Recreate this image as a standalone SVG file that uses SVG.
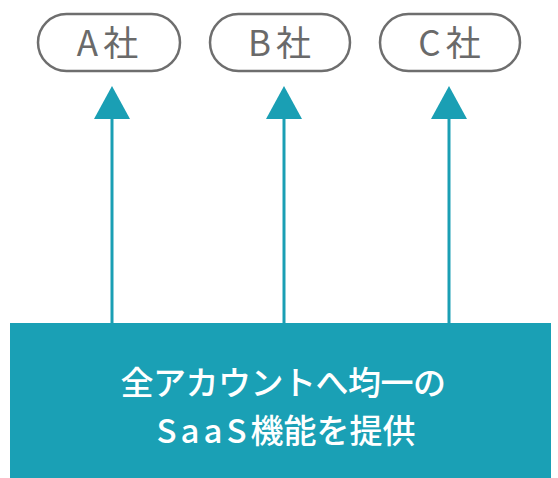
<svg xmlns="http://www.w3.org/2000/svg" width="558" height="478" viewBox="0 0 558 478">
<defs>
<style>
.pill{fill:#fff;stroke:#6e6e6e;stroke-width:2.5}
.pt{font-family:"Noto Sans CJK JP","Noto Sans",sans-serif;font-size:35px;font-weight:400;fill:#6a6a6a;text-anchor:middle;letter-spacing:5px}
.bt{font-family:"Noto Sans CJK JP","Noto Sans",sans-serif;font-size:33px;font-weight:500;fill:#fff;text-anchor:middle}
.ln{stroke:#1a9fb4;stroke-width:3;fill:none}
.hd{fill:#1a9fb4}
</style>
</defs>
<rect width="558" height="478" fill="#fff"/>
<g id="connectors">
<line class="ln" x1="112" y1="114" x2="112" y2="324"/>
<polygon class="hd" points="112,86 94,119 130,119"/>
<line class="ln" x1="284" y1="114" x2="284" y2="324"/>
<polygon class="hd" points="284,86 266,119 302,119"/>
<line class="ln" x1="449" y1="114" x2="449" y2="324"/>
<polygon class="hd" points="449,86 431,119 467,119"/>
</g>
<g id="nodeA">
<rect class="pill" x="38" y="14" width="142" height="57" rx="28.5"/>
<text class="pt" x="110" y="56">A社</text>
</g>
<g id="nodeB">
<rect class="pill" x="210" y="14" width="140" height="57" rx="28.5"/>
<text class="pt" x="282" y="56">B社</text>
</g>
<g id="nodeC">
<rect class="pill" x="380" y="14" width="140" height="57" rx="28.5"/>
<text class="pt" x="452" y="56">C社</text>
</g>
<g id="saas">
<rect x="10" y="323" width="541" height="155" fill="#1aa0b5"/>
<text class="bt" x="283" y="395" letter-spacing="-0.5">全アカウントへ均一の</text>
<text class="bt" x="286" y="443"><tspan letter-spacing="4">SaaS</tspan><tspan>機能を提供</tspan></text>
</g>
</svg>
